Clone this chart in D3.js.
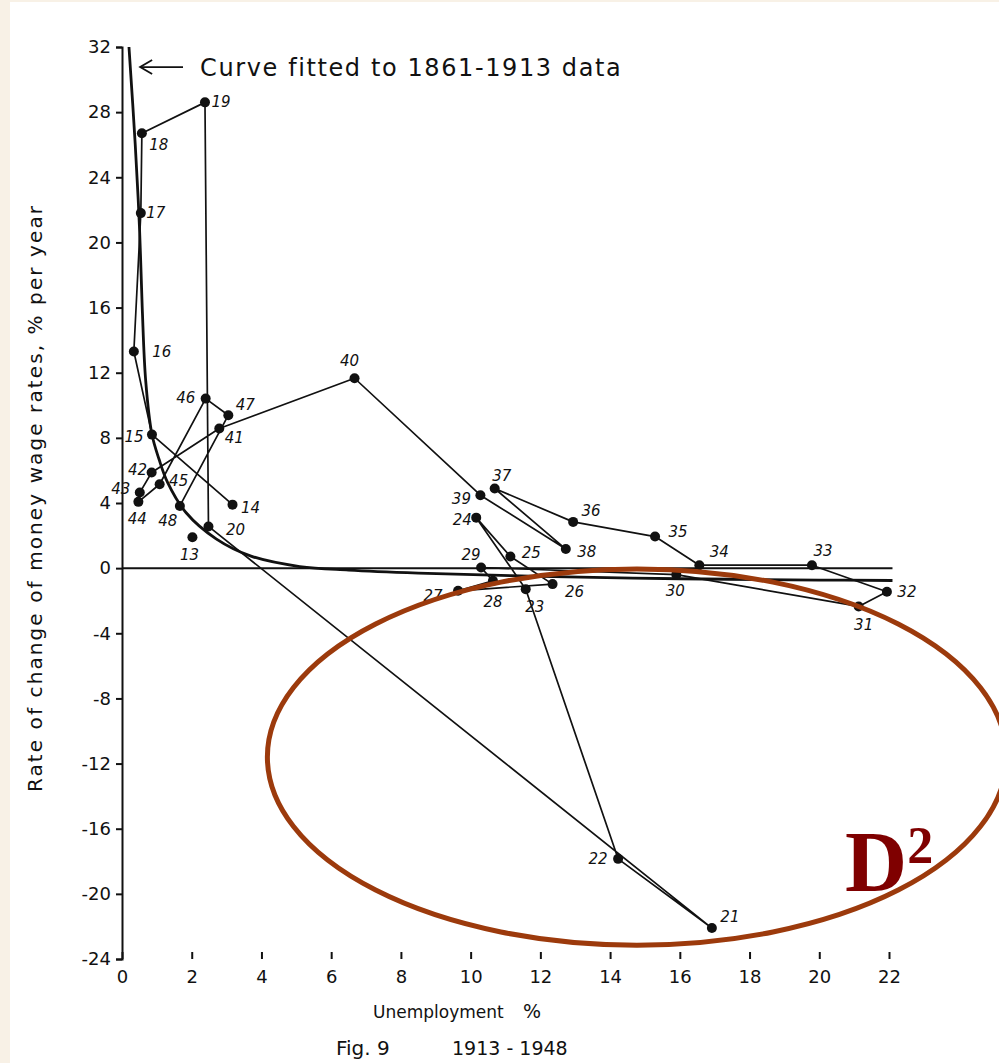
<!DOCTYPE html>
<html>
<head>
<meta charset="utf-8">
<script src="https://cdn.jsdelivr.net/npm/d3@7"></script>
<style>
  body { margin: 0; background: #f8f1e6; }
  svg { display: block; }
</style>
</head>
<body>
<div id="chart"></div>
<script>
// data
const years = [13, 14, 15, 16, 17, 18, 19, 20, 21, 22, 23, 24, 25, 26, 27, 28, 29, 30,
  31, 32, 33, 34, 35, 36, 37, 38, 39, 40, 41, 42, 43, 44, 45, 46, 47, 48];
const unemployment = [2.02, 3.17, 0.86, 0.34, 0.54, 0.57, 2.38, 2.48, 16.92, 14.23, 11.58, 10.16,
  11.14, 12.35, 9.64, 10.64, 10.3, 15.9, 21.13, 21.94, 19.79, 16.56, 15.29, 12.94, 10.69, 12.73,
  10.28, 6.67, 2.79, 0.85, 0.51, 0.47, 1.08, 2.4, 3.05, 1.66];
const wageChange = [1.9, 3.9, 8.2, 13.3, 21.8, 26.7, 28.6, 2.56, -22.1, -17.85, -1.29, 3.1,
  0.72, -0.98, -1.39, -0.78, 0.04, -0.4, -2.35, -1.45, 0.18, 0.18, 1.94, 2.84, 4.89, 1.17,
  4.48, 11.66, 8.57, 5.87, 4.64, 4.07, 5.15, 10.41, 9.39, 3.82];

// curve fitted to 1861-1913 data
const curveU = [0.2, 0.38, 0.5, 0.58, 0.68, 0.86, 1.06, 1.3, 1.84, 2.7, 3.7, 5.1, 6.5, 8.5, 12, 16, 20, 22.1];
const curveW = [32, 26, 21, 16, 11.5, 8.2, 6.7, 5.3, 3.4, 1.8, 0.74, 0.1, -0.12, -0.3, -0.5, -0.65, -0.73, -0.76];

const xTicks = [0, 2, 4, 6, 8, 10, 12, 14, 16, 18, 20, 22];
const yTicks = [-24, -20, -16, -12, -8, -4, 0, 4, 8, 12, 16, 20, 24, 28, 32];

function drawChart() {
  const W = 999, H = 1063;
  const font = "'DejaVu Sans', sans-serif";

  const svg = d3.select("#chart").append("svg")
    .attr("width", W).attr("height", H);

  svg.append("rect").attr("x", 10).attr("y", 2)
    .attr("width", W - 10).attr("height", H - 2).attr("fill", "#ffffff");

  // scales
  const x = d3.scaleLinear().domain([0, 22]).range([122, 889]);
  const y = d3.scaleLinear().domain([-24, 32]).range([959, 47]);

  // axes
  const yAxis = svg.append("g")
    .attr("transform", `translate(${x(0)},0)`)
    .call(d3.axisLeft(y).tickValues(yTicks).tickSize(6).tickSizeOuter(6).tickPadding(5)
      .tickFormat(d => d < 0 ? "-" + Math.abs(d) : d));
  yAxis.selectAll("path, line").attr("stroke", "#111").attr("stroke-width", 2);
  yAxis.selectAll("text").style("font-family", font).style("font-size", "18px").attr("fill", "#111");

  const xAxis = svg.append("g")
    .attr("transform", `translate(0,${y(-24)})`)
    .call(d3.axisBottom(x).tickValues(xTicks).tickSize(-7).tickPadding(11));
  xAxis.select(".domain").remove();
  xAxis.selectAll("line").attr("stroke", "#111").attr("stroke-width", 2);
  xAxis.selectAll("text").style("font-family", font).style("font-size", "18px").attr("fill", "#111");

  // zero line
  svg.append("line")
    .attr("x1", x(0)).attr("x2", x(22.1))
    .attr("y1", y(0)).attr("y2", y(0))
    .attr("stroke", "#111").attr("stroke-width", 2);

  // fitted curve
  const curvePts = curveU.map((u, i) => [u, curveW[i]]);
  svg.append("path")
    .datum(curvePts)
    .attr("fill", "none").attr("stroke", "#111").attr("stroke-width", 2.8)
    .attr("d", d3.line().x(d => x(d[0])).y(d => y(d[1])).curve(d3.curveCatmullRom.alpha(0.5)));

  // year path (1914 onwards joined)
  const pts = years.map((yr, i) => ({ yr, u: unemployment[i], w: wageChange[i] }));
  svg.append("path")
    .datum(pts.filter(d => d.yr >= 14))
    .attr("fill", "none").attr("stroke", "#111").attr("stroke-width", 1.7)
    .attr("stroke-linejoin", "round")
    .attr("d", d3.line().x(d => x(d.u)).y(d => y(d.w)));

  svg.selectAll("circle.pt")
    .data(pts)
    .enter().append("circle")
    .attr("class", "pt")
    .attr("cx", d => x(d.u)).attr("cy", d => y(d.w))
    .attr("r", 5).attr("fill", "#111");

  // label offsets (pixels, centre of label relative to the dot)
  const off = {
    13: [-3, 18], 14: [18, 3], 15: [-18, 2], 16: [28, 0], 17: [15, 0], 18: [17, 12],
    19: [16, 0], 20: [27, 4], 21: [18, -11], 22: [-20, 0], 23: [9, 18], 24: [-14, 2],
    25: [21, -3], 26: [22, 8], 27: [-25, 5], 28: [0, 21], 29: [-10, -12], 30: [-1, 16],
    31: [5, 19], 32: [20, 0], 33: [11, -14], 34: [20, -13], 35: [23, -5], 36: [18, -11],
    37: [7, -13], 38: [21, 3], 39: [-19, 4], 40: [-5, -17], 41: [15, 9], 42: [-14, -3],
    43: [-19, -4], 44: [-1, 17], 45: [19, -3], 46: [-20, -1], 47: [17, -10], 48: [-12, 15]
  };
  svg.selectAll("text.yr")
    .data(pts)
    .enter().append("text")
    .attr("class", "yr")
    .attr("x", d => x(d.u) + off[d.yr][0])
    .attr("y", d => y(d.w) + off[d.yr][1])
    .attr("text-anchor", "middle")
    .attr("dominant-baseline", "central")
    .style("font-family", font).style("font-style", "italic").style("font-size", "15px")
    .attr("fill", "#111")
    .text(d => d.yr);

  // annotation arrow + text
  const ay = y(30.77);
  svg.append("line").attr("x1", x(0.52)).attr("x2", x(1.75)).attr("y1", ay).attr("y2", ay)
    .attr("stroke", "#111").attr("stroke-width", 1.8);
  svg.append("path")
    .attr("d", `M${x(0.52) + 12},${ay - 7}L${x(0.52)},${ay}L${x(0.52) + 12},${ay + 7}`)
    .attr("fill", "none").attr("stroke", "#111").attr("stroke-width", 1.8);
  svg.append("text")
    .attr("x", x(2.24)).attr("y", ay + 9)
    .style("font-family", font).style("font-size", "24px").style("letter-spacing", "1.6px")
    .attr("fill", "#111")
    .text("Curve fitted to 1861-1913 data");

  // axis titles
  svg.append("text")
    .attr("transform", `translate(42,${498}) rotate(-90)`)
    .attr("text-anchor", "middle")
    .style("font-family", font).style("font-size", "20px").style("letter-spacing", "2.1px")
    .attr("fill", "#111")
    .text("Rate of change of money wage rates, % per year");

  svg.append("text")
    .attr("x", 373).attr("y", 1018)
    .style("font-family", font).style("font-size", "17px")
    .attr("fill", "#111")
    .text("Unemployment");
  svg.append("text")
    .attr("x", 523).attr("y", 1018)
    .style("font-family", font).style("font-size", "19px")
    .attr("fill", "#111")
    .text("%");

  svg.append("text")
    .attr("x", 336).attr("y", 1055)
    .style("font-family", font).style("font-size", "20px")
    .attr("fill", "#111")
    .text("Fig. 9");
  svg.append("text")
    .attr("x", 452).attr("y", 1055)
    .style("font-family", font).style("font-size", "19px")
    .attr("fill", "#111")
    .text("1913 - 1948");

  // highlight ellipse and D² mark
  svg.append("ellipse")
    .attr("cx", x(14.77)).attr("cy", y(-11.6))
    .attr("rx", x(14.77 + 10.6) - x(14.77)).attr("ry", y(-11.6 - 11.55) - y(-11.6))
    .attr("fill", "none").attr("stroke", "#9c3a0c").attr("stroke-width", 5);

  const d2 = svg.append("text")
    .attr("x", x(20.74)).attr("y", y(-19.8))
    .style("font-family", "'Liberation Serif', serif").style("font-weight", "bold")
    .style("font-size", "86px").attr("fill", "#7f0000");
  d2.append("tspan").text("D");
  d2.append("tspan").attr("dy", -28).style("font-size", "52px").text("2");
}

drawChart();
</script>
</body>
</html>
